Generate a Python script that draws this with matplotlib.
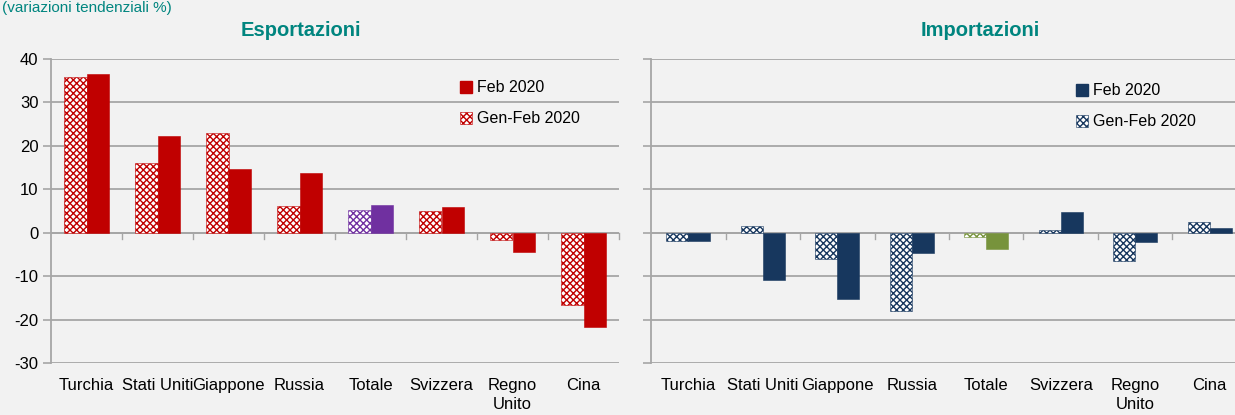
import matplotlib.pyplot as plt
from matplotlib.patches import Patch
from matplotlib.transforms import blended_transform_factory
import numpy as np

paesi = ['Turchia', 'Stati Uniti', 'Giappone', 'Russia', 'Totale', 'Svizzera', 'Regno\nUnito', 'Cina']
exp_feb = [36.5, 22.3, 14.7, 13.7, 6.4, 5.9, -4.4, -21.6]
exp_genfeb = [35.9, 16.0, 23.0, 6.2, 5.2, 4.9, -1.7, -16.7]
imp_feb = [-1.8, -11.0, -15.3, -4.6, -3.8, 4.8, -2.2, 1.2]
imp_genfeb = [-1.9, 1.6, -6.1, -18.1, -1.0, 0.7, -6.6, 2.5]
y_ticks = [-30, -20, -10, 0, 10, 20, 30, 40]

BG = '#F2F2F2'
TEAL = '#00857F'
GRID = '#A6A6A6'
FONT = ['Liberation Sans Narrow', 'Liberation Sans', 'DejaVu Sans']

plt.rcParams['font.family'] = FONT
plt.rcParams['hatch.linewidth'] = 1.0
plt.rcParams['axes.unicode_minus'] = False

fig = plt.figure(figsize=(12.35, 4.15), dpi=100, facecolor=BG)
W, H = 1235, 415


def make_axes(x0, width):
    ax = fig.add_axes([x0 / W, (H - 363) / H, width / W, 304 / H])
    ax.set_facecolor(BG)
    return ax


def draw_panel(ax, feb, genfeb, col, col_tot, bw, show_labels):
    x = np.arange(len(paesi))
    cols = [col_tot if p == 'Totale' else col for p in paesi]
    ax.bar(x - bw / 2, genfeb, bw, color='white', edgecolor=cols, hatch='xxxxx',
           linewidth=0.4, zorder=3)
    ax.bar(x + bw / 2, feb, bw, color=cols, edgecolor=cols, linewidth=0.4, zorder=3)

    ax.set_xlim(-0.5, len(paesi) - 0.5)
    ax.set_ylim(-30, 40)
    ax.set_yticks(y_ticks)
    ax.yaxis.grid(True, color=GRID, linewidth=1.3)
    ax.set_axisbelow(True)
    for s in ['top', 'right', 'bottom']:
        ax.spines[s].set_visible(False)
    ax.spines['left'].set_color(GRID)
    ax.spines['left'].set_linewidth(1.3)
    ax.tick_params(axis='y', length=6, width=1.2, color=GRID, labelsize=12, pad=3)
    if not show_labels:
        ax.tick_params(axis='y', labelleft=False)

    # asse x sullo zero con tacche tra le categorie
    ax.axhline(0, color=GRID, linewidth=1.3, zorder=2)
    tr = blended_transform_factory(ax.transData, ax.transAxes)
    ax.set_xticks([])
    for b in np.arange(0.5, len(paesi), 1.0):
        ax.plot([b, b], [0, -1.5], color=GRID, linewidth=1.0, zorder=2, clip_on=False)
    for xi, p in zip(x, paesi):
        ax.text(xi, -0.05, p, transform=tr, ha='center', va='top', fontsize=12,
                linespacing=1.3, color='black', clip_on=False)

    handles = [Patch(facecolor=col, edgecolor=col, label='Feb 2020'),
               Patch(facecolor='white', edgecolor=col, hatch='xxxxx', linewidth=0.4,
                     label='Gen-Feb 2020')]
    return handles


ax1 = make_axes(51, 568)
h1 = draw_panel(ax1, exp_feb, exp_genfeb, '#C00000', '#7030A0', 0.31, True)
ax1.legend(handles=h1, loc='upper left', bbox_to_anchor=(0.72, 0.93), frameon=False,
           fontsize=11.5, handlelength=0.75, handleheight=0.75, handletextpad=0.3,
           labelspacing=1.0, borderpad=0, borderaxespad=0)

ax2 = make_axes(651, 596)
h2 = draw_panel(ax2, imp_feb, imp_genfeb, '#17375E', '#77933C', 0.295, False)
ax2.legend(handles=h2, loc='upper left', bbox_to_anchor=(0.713, 0.92), frameon=False,
           fontsize=11.5, handlelength=0.75, handleheight=0.75, handletextpad=0.3,
           labelspacing=1.0, borderpad=0, borderaxespad=0)

fig.text(301 / W, 1 - 31 / H, 'Esportazioni', ha='center', va='center', fontsize=14.5,
         fontweight='bold', color=TEAL)
fig.text(980 / W, 1 - 31 / H, 'Importazioni', ha='center', va='center', fontsize=14.5,
         fontweight='bold', color=TEAL)
fig.text(2 / W, 1 - 1 / H, '(variazioni tendenziali %)', ha='left', va='top',
         fontsize=11, color=TEAL)

fig.savefig('out.png', dpi=100, facecolor=BG)
